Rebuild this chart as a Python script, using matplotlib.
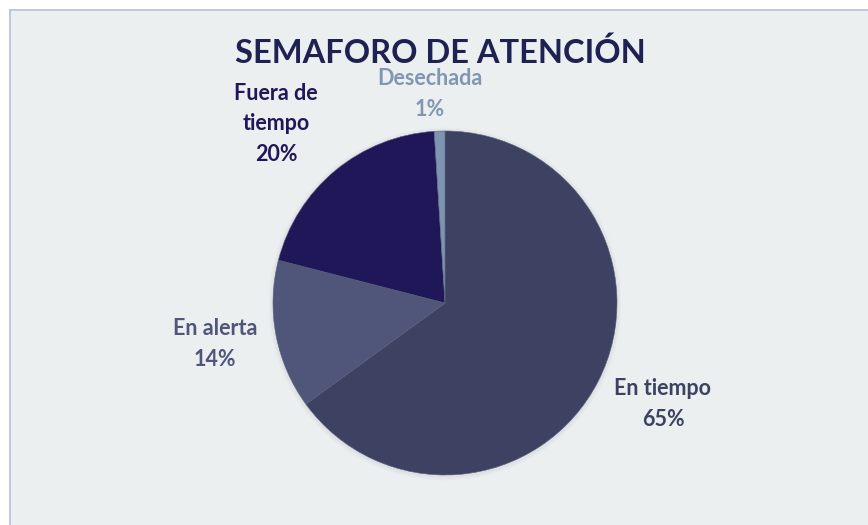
import matplotlib
matplotlib.use("Agg")
import matplotlib.pyplot as plt
from matplotlib.lines import Line2D

categories = ["En tiempo", "En alerta", "Fuera de\ntiempo", "Desechada"]
values = [65, 14, 20, 1]
colors = ["#3D4263", "#50557A", "#1F1758", "#7D95B1"]
label_colors = ["#3D4263", "#50557A", "#1F1758", "#7F97B3"]
title = "SEMAFORO DE ATENCIÓN"

W, H = 868, 525
fig = plt.figure(figsize=(W / 100, H / 100), dpi=100)
fig.patch.set_facecolor("white")
ax = fig.add_axes([0, 0, 1, 1])
ax.set_xlim(0, W)
ax.set_ylim(0, H)
ax.set_aspect("equal")
ax.axis("off")

# chart area background and border
ax.add_patch(plt.Rectangle((10, 0), W - 10, H - 10, facecolor="#ECEFF0", edgecolor="none"))
ax.add_line(Line2D([10, 10], [0, H - 10], color="#B7BEDD", lw=1.2))
ax.add_line(Line2D([10, W], [H - 10, H - 10], color="#B7BEDD", lw=1.2))

cx, cy, r = 445, H - 303, 172
# soft shadow
for i, a in enumerate([0.05, 0.04, 0.03]):
    ax.add_patch(plt.Circle((cx, cy - 1), r + 1.5 + i * 1.5, color="#7A7F90", alpha=a, lw=0))

ax.pie(values, colors=colors, startangle=90, counterclock=False,
       center=(cx, cy), radius=r, wedgeprops=dict(linewidth=0.4, edgecolor="#5a5f7a"),
       frame=True)
ax.set_xlim(0, W)
ax.set_ylim(0, H)
ax.axis("off")

font = "Lato"
label_pos = [(663, 404), (215, 344), (276, 124), (430, 94)]
for cat, v, col, (x, y) in zip(categories, values, label_colors, label_pos):
    ax.text(x, H - y, f"{cat}\n{v}%", ha="center", va="center", color=col,
            fontsize=15.5, fontweight="bold", family=font, linespacing=1.55)

ax.text(440, H - 53, title, ha="center", va="center", color="#1F2152",
        fontsize=23.5, fontweight="bold", family=font)

fig.savefig("out.png", dpi=100, facecolor=fig.get_facecolor())
